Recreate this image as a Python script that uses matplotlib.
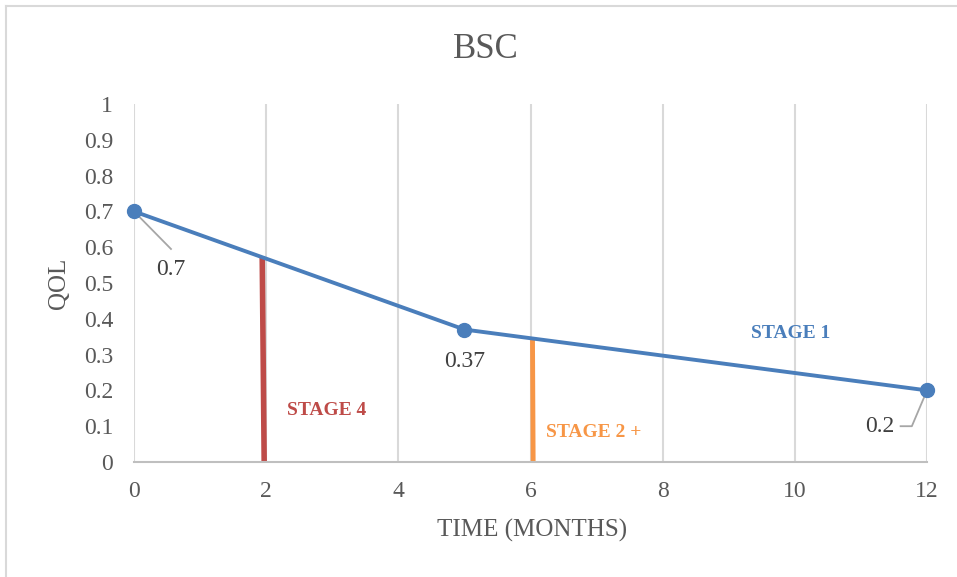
import matplotlib
matplotlib.use("Agg")
import matplotlib.pyplot as plt
from matplotlib.lines import Line2D

# data
months = [0, 5, 12]
qol = [0.7, 0.37, 0.2]
point_labels = ["0.7", "0.37", "0.2"]

stage4_x = [1.94, 1.97]
stage4_y = [0.575, 0.0]
stage2_x = [6.03, 6.04]
stage2_y = [0.345, 0.0]

x_ticks = [0, 2, 4, 6, 8, 10, 12]
y_ticks = [0, 0.1, 0.2, 0.3, 0.4, 0.5, 0.6, 0.7, 0.8, 0.9, 1]
y_tick_labels = ["0", "0.1", "0.2", "0.3", "0.4", "0.5", "0.6", "0.7", "0.8", "0.9", "1"]

BLUE = "#4a7ebb"
RED = "#be4b48"
ORANGE = "#f79646"
TXT = "#595959"
GRID = "#d9d9d9"

plt.rcParams["font.family"] = ["Liberation Serif", "DejaVu Serif"]

fig = plt.figure(figsize=(9.57, 5.77), dpi=100)
ax = fig.add_axes([0.140, 0.1993, 0.8287, 0.6205])

# chart border (only left and top visible in the crop)
fig.add_artist(Line2D([0.006, 0.006], [0.0, 0.989], transform=fig.transFigure,
                      color="#d9d9d9", lw=1.5))
fig.add_artist(Line2D([0.006, 1.0], [0.989, 0.989], transform=fig.transFigure,
                      color="#d9d9d9", lw=1.5))

for x in x_ticks:
    ax.axvline(x, color=GRID, lw=1.5, zorder=0)

ax.plot(stage4_x, stage4_y, color=RED, lw=4, solid_capstyle="butt", zorder=2)
ax.plot(stage2_x, stage2_y, color=ORANGE, lw=3.5, solid_capstyle="butt", zorder=2)
ax.plot(months, qol, color=BLUE, lw=2.8, marker="o", ms=10, zorder=3, clip_on=False)

# data labels with leader lines
ax.plot([0, 0.56], [0.7, 0.595], color="#a6a6a6", lw=1.3, zorder=2)
ax.text(0.56, 0.537, point_labels[0], ha="center", va="center", fontsize=17, color="#404040")
ax.text(5.0, 0.28, point_labels[1], ha="center", va="center", fontsize=17, color="#404040")
ax.plot([12, 11.77, 11.6], [0.2, 0.1, 0.1], color="#a6a6a6", lw=1.3, zorder=2)
ax.text(11.28, 0.10, point_labels[2], ha="center", va="center", fontsize=17, color="#404040")

ax.text(2.92, 0.145, "STAGE 4", color=RED, fontsize=14, fontweight="bold", ha="center", va="center")
ax.text(6.95, 0.082, "STAGE 2 +", color=ORANGE, fontsize=14, fontweight="bold", ha="center", va="center")
ax.text(9.93, 0.36, "STAGE 1", color=BLUE, fontsize=14, fontweight="bold", ha="center", va="center")

ax.set_xlim(0, 12)
ax.set_ylim(0, 1)
ax.set_xticks(x_ticks)
ax.set_yticks(y_ticks)
ax.set_yticklabels(y_tick_labels)
ax.tick_params(length=0, labelsize=17, labelcolor=TXT)
ax.tick_params(axis="x", pad=14)
ax.tick_params(axis="y", pad=15)
for s in ["top", "right", "left"]:
    ax.spines[s].set_visible(False)
ax.spines["bottom"].set_color("#bfbfbf")
ax.spines["bottom"].set_linewidth(1.5)

ax.text(0.502, -0.19, "TIME (MONTHS)", transform=ax.transAxes, fontsize=18,
        color=TXT, ha="center", va="center")
ax.text(-0.095, 0.5, "QOL", transform=ax.transAxes, fontsize=18, rotation=90,
        color=TXT, ha="center", va="center")
fig.text(486 / 957, 1 - 50 / 577, "BSC", fontsize=25, color=TXT, ha="center", va="center")

fig.savefig("out.png", dpi=100)
